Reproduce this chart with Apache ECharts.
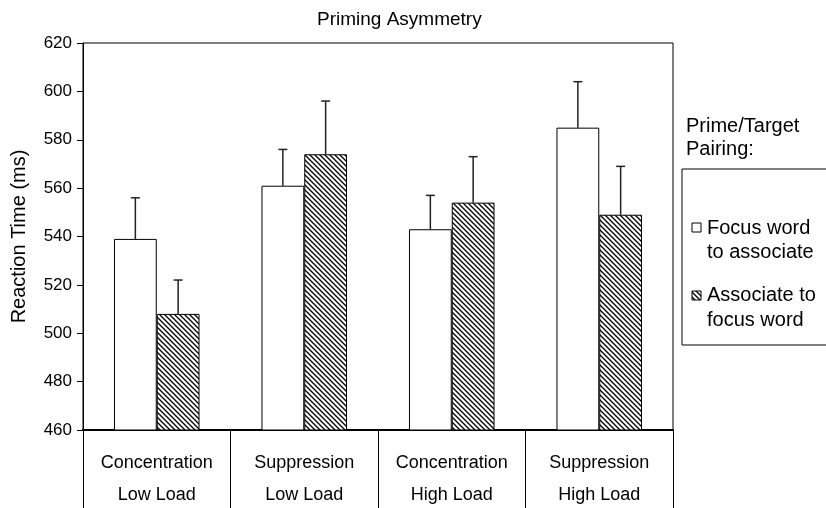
<!DOCTYPE html>
<html>
<head>
<meta charset="utf-8">
<script src="https://cdn.jsdelivr.net/npm/echarts@6/dist/echarts.min.js"></script>
<style>
html,body{margin:0;padding:0;background:#fff;}
#chart{width:826px;height:508px;}
</style>
</head>
<body>
<div id="chart"></div>
<script>
// ---- data ----
const conditions = ['Concentration', 'Suppression', 'Concentration', 'Suppression'];
const loads = ['Low Load', 'Low Load', 'High Load', 'High Load'];
const seriesNames = ['Focus word to associate', 'Associate to focus word'];
const legendLines = [['Focus word', 'to associate'], ['Associate to', 'focus word']];
const focusToAssociate = [539, 561, 543, 585];
const associateToFocus = [508, 574, 554, 549];
const focusToAssociateErr = [17, 15, 14, 19];
const associateToFocusErr = [14, 22, 19, 20];
const yMin = 460, yMax = 620, yStep = 20;
const chartTitle = 'Priming Asymmetry';
const yTitle = 'Reaction Time (ms)';
const legendTitle = 'Prime/Target\nPairing:';

// ---- hatch pattern ----
function makeHatch() {
  const s = 5;
  const c = document.createElement('canvas');
  c.width = s; c.height = s;
  const ctx = c.getContext('2d');
  ctx.fillStyle = '#fff';
  ctx.fillRect(0, 0, s, s);
  ctx.strokeStyle = '#000';
  ctx.lineWidth = 1.3;
  ctx.beginPath();
  ctx.moveTo(-1, -1); ctx.lineTo(s + 1, s + 1);
  ctx.moveTo(-1, s - 1); ctx.lineTo(1, s + 1);
  ctx.moveTo(s - 1, -1); ctx.lineTo(s + 1, 1);
  ctx.stroke();
  return c;
}
const hatch = makeHatch();
const hatchFill = { image: hatch, repeat: 'repeat' };

const FONT = 'Liberation Sans, Arial, sans-serif';
const categories = conditions.map((c, i) => c + '\n' + loads[i]);
const CAT_GAP = 0.42;

function errSeries(values, errs, side) {
  return {
    type: 'custom',
    silent: true,
    z: 5,
    data: values.map((v, i) => [i, v + errs[i], v]),
    encode: { x: 0, y: 1 },
    renderItem: function (params, api) {
      const idx = api.value(0);
      const top = api.coord([idx, api.value(1)]);
      const base = api.coord([idx, api.value(2)]);
      const bw = api.size([1, 0])[0] * (1 - CAT_GAP) / 2;
      const x = top[0] + side * bw / 2;
      const cap = 4.5;
      return {
        type: 'group',
        children: [
          { type: 'line', shape: { x1: x, y1: base[1], x2: x, y2: top[1] }, style: { stroke: '#222', lineWidth: 1.5 } },
          { type: 'line', shape: { x1: x - cap, y1: top[1], x2: x + cap, y2: top[1] }, style: { stroke: '#222', lineWidth: 1.5 } }
        ]
      };
    }
  };
}

const chart = echarts.init(document.getElementById('chart'), null, { renderer: 'canvas' });
const option = {
  animation: false,
  backgroundColor: '#fff',
  textStyle: { fontFamily: FONT, color: '#000' },
  title: {
    text: chartTitle,
    left: 312, top: 5,
    textStyle: { fontFamily: FONT, fontSize: 19, fontWeight: 'normal', color: '#000' }
  },
  grid: {
    left: 83, right: 153, top: 43, bottom: 78,
    outerBoundsMode: 'none',
    containLabel: false,
    show: true, borderColor: '#000', borderWidth: 1, backgroundColor: '#fff'
  },
  xAxis: {
    type: 'category',
    data: categories,
    axisLine: { lineStyle: { color: '#000', width: 2 } },
    axisTick: { show: true, length: 80, lineStyle: { color: '#000', width: 1 } },
    axisLabel: {
      color: '#000', fontFamily: FONT, fontSize: 18, lineHeight: 32, margin: 17,
      interval: 0
    }
  },
  yAxis: {
    type: 'value',
    min: yMin, max: yMax, interval: yStep,
    name: yTitle,
    nameLocation: 'middle',
    nameRotate: 90,
    nameGap: 54,
    nameTextStyle: { fontFamily: FONT, fontSize: 20, color: '#000' },
    axisLine: { show: true, lineStyle: { color: '#000', width: 1 } },
    axisTick: { show: true, length: 6, lineStyle: { color: '#000' } },
    axisLabel: { color: '#000', fontFamily: FONT, fontSize: 17, margin: 11 },
    splitLine: { show: false }
  },
  series: [
    {
      name: seriesNames[0], type: 'bar', data: focusToAssociate,
      barGap: '0%', barCategoryGap: (CAT_GAP * 100) + '%',
      itemStyle: { color: '#fff', borderColor: '#000', borderWidth: 1 }
    },
    {
      name: seriesNames[1], type: 'bar', data: associateToFocus,
      barGap: '0%', barCategoryGap: (CAT_GAP * 100) + '%',
      itemStyle: { color: hatchFill, borderColor: '#000', borderWidth: 1 }
    },
    errSeries(focusToAssociate, focusToAssociateErr, -1),
    errSeries(associateToFocus, associateToFocusErr, 1)
  ],
  graphic: [
    { type: 'text', left: 686, top: 115, style: { text: legendTitle, fontFamily: FONT, fontSize: 20, lineHeight: 23, fill: '#000' } },
    { type: 'rect', shape: { x: 682, y: 169, width: 160, height: 176 }, style: { fill: 'none', stroke: '#000', lineWidth: 1 } },
    { type: 'rect', shape: { x: 692, y: 223, width: 9, height: 9 }, style: { fill: '#fff', stroke: '#000', lineWidth: 1 } },
    { type: 'text', left: 707, top: 216, style: { text: legendLines[0].join('\n'), fontFamily: FONT, fontSize: 20, lineHeight: 24, fill: '#000' } },
    { type: 'rect', shape: { x: 692, y: 291, width: 9, height: 9 }, style: { fill: hatchFill, stroke: '#000', lineWidth: 1 } },
    { type: 'text', left: 707, top: 283, style: { text: legendLines[1].join('\n'), fontFamily: FONT, fontSize: 20, lineHeight: 25, fill: '#000' } }
  ]
};
chart.setOption(option);
</script>
</body>
</html>
